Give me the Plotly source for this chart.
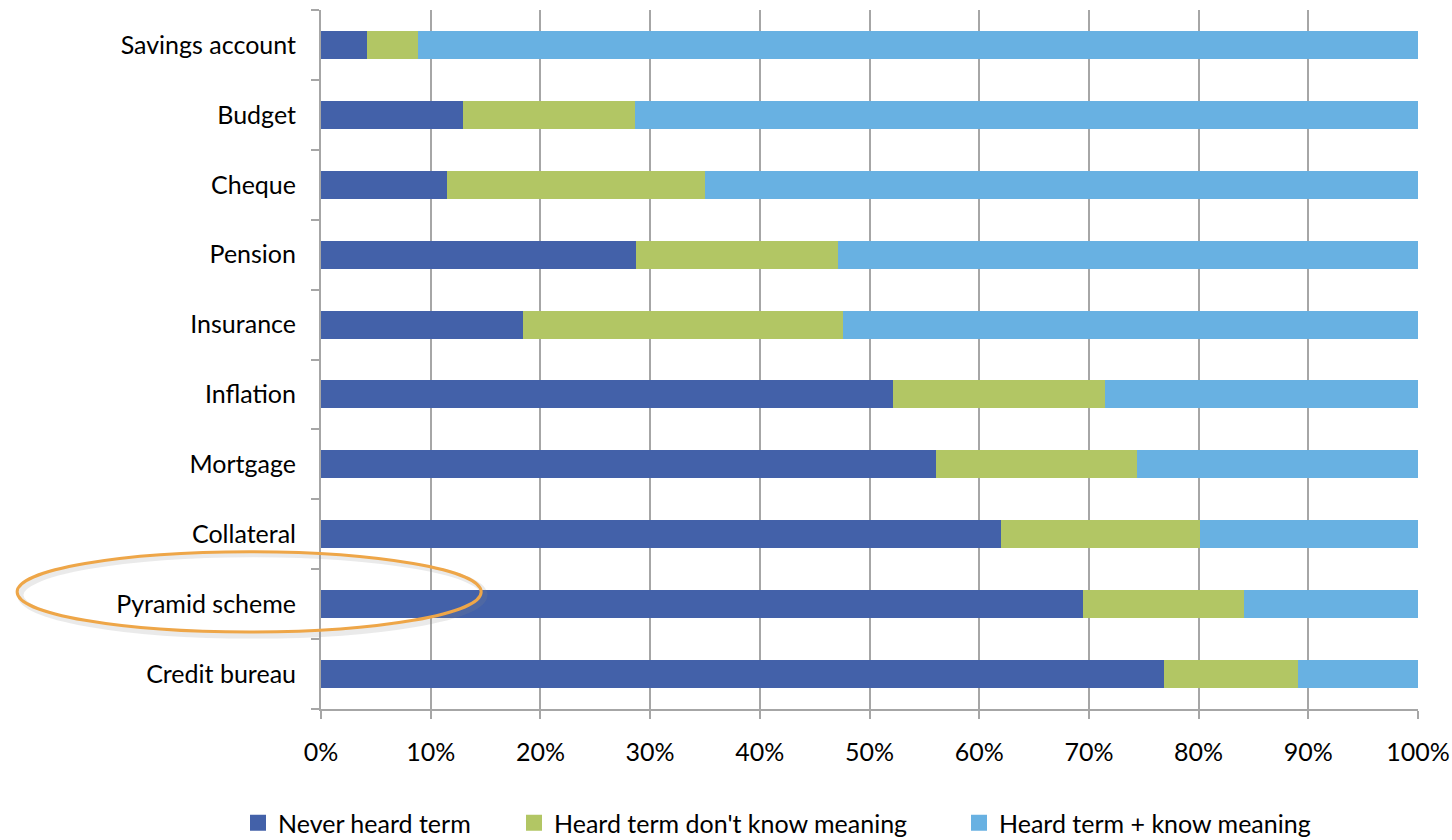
import plotly.graph_objects as go

# Financial terms, listed bottom-to-top as drawn on the category axis
terms = [
    "Credit bureau", "Pyramid scheme", "Collateral", "Mortgage", "Inflation",
    "Insurance", "Pension", "Cheque", "Budget", "Savings account",
]

# Share of respondents (%) for each response
never_heard = [76.8, 69.5, 62.0, 56.1, 52.1, 18.4, 28.7, 11.5, 12.9, 4.2]
heard_no_meaning = [12.3, 14.6, 18.1, 18.3, 19.4, 29.2, 18.4, 23.5, 15.7, 4.6]
heard_know_meaning = [round(100 - a - b, 1) for a, b in zip(never_heard, heard_no_meaning)]

series_names = ["Never heard term", "Heard term don't know meaning", "Heard term + know meaning"]
series_values = [never_heard, heard_no_meaning, heard_know_meaning]
series_colors = ["#4361A9", "#B2C664", "#68B1E2"]

x_ticks = list(range(0, 101, 10))
x_tick_labels = [f"{v}%" for v in x_ticks]

FONT = "Lato"
FSIZE = 25
GRID = "#A6A6A6"

fig = go.Figure()

for name, vals, col in zip(series_names, series_values, series_colors):
    fig.add_trace(go.Bar(
        y=terms, x=vals, name=name, orientation="h",
        marker=dict(color=col, line=dict(width=0)),
        width=0.4, showlegend=False,
        hovertemplate="%{y}: %{x:.1f}%<extra>" + name + "</extra>",
    ))

# One legend per series so each entry sits at its own spot along the bottom
legend_ids = ["legend", "legend2", "legend3"]
legend_lefts = [238, 514, 959]  # px from the left of the figure
for name, col, lid in zip(series_names, series_colors, legend_ids):
    fig.add_trace(go.Scatter(
        x=[None], y=[None], mode="markers", name=name, legend=lid,
        marker=dict(symbol="square", size=16, color=col, line=dict(width=0)),
    ))

legend_style = dict(
    orientation="h", xref="container", yref="container",
    xanchor="left", y=1 - 823 / 840, yanchor="middle",
    font=dict(family=FONT, size=FSIZE, color="#000000"),
    itemwidth=30, bgcolor="rgba(0,0,0,0)", borderwidth=0,
)

# Highlight ring around the "Pyramid scheme" label (soft shadow, then ring)
fig.add_shape(type="circle", xref="paper", yref="paper",
              x0=-0.2740, x1=0.1490, y0=0.1050, y1=0.2215,
              line=dict(color="rgba(140,140,140,0.18)", width=6), layer="above")
fig.add_shape(type="circle", xref="paper", yref="paper",
              x0=-0.2770, x1=0.1460, y0=0.1100, y1=0.2250,
              line=dict(color="#EEA648", width=3), layer="above")

fig.update_layout(
    barmode="stack",
    width=1452, height=840,
    margin=dict(l=321, r=34, t=10, b=131),
    paper_bgcolor="white", plot_bgcolor="white",
    font=dict(family=FONT, size=FSIZE, color="#000000"),
    legend=dict(legend_style, x=legend_lefts[0] / 1452),
    legend2=dict(legend_style, x=legend_lefts[1] / 1452),
    legend3=dict(legend_style, x=legend_lefts[2] / 1452),
    xaxis=dict(
        range=[0, 100], tickvals=x_ticks, ticktext=x_tick_labels,
        showgrid=True, gridcolor=GRID, gridwidth=2,
        ticks="outside", ticklen=8, tickwidth=2, tickcolor=GRID,
        showline=True, linecolor=GRID, linewidth=2,
        zeroline=False, ticklabelstandoff=12, automargin=False,
        tickfont=dict(family=FONT, size=FSIZE),
    ),
    yaxis=dict(
        type="category", categoryorder="array", categoryarray=terms,
        range=[-0.5, 9.5], automargin=False,
        showgrid=False, zeroline=False,
        ticks="outside", ticklen=8, tickwidth=2, tickcolor=GRID,
        tickson="boundaries",
        showline=True, linecolor=GRID, linewidth=2,
        ticklabelstandoff=18,
        tickfont=dict(family=FONT, size=FSIZE),
    ),
)

fig.write_html("out.html")
